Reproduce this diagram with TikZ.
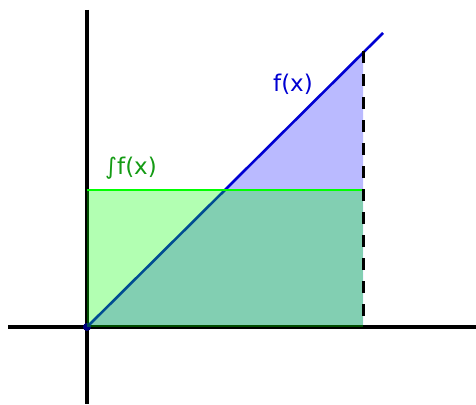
\documentclass[tikz,border=0pt]{standalone}
\usepackage{fontspec}
\setmainfont{DejaVu Sans}
\definecolor{fblue}{RGB}{0,0,210}
\definecolor{lblgreen}{RGB}{20,155,20}
\begin{document}
\begin{tikzpicture}[x=1pt,y=-1pt,
  axisline/.style={line width=3.2pt,black},
  fline/.style={line width=2.6pt,fblue},
  lbl/.style={font=\fontsize{23}{27}\selectfont,inner sep=0pt}]
\useasboundingbox (0,0) rectangle (476,404);
\coordinate (O) at (87,327);
\coordinate (xl) at (8,327);
\coordinate (xr) at (476,327);
\coordinate (yt) at (87,10);
\coordinate (yb) at (87,404);
\coordinate (E) at (383,33);
\coordinate (P) at (363,51);
\coordinate (B) at (363,327);
\coordinate (Gt) at (87,190);
\coordinate (Gr) at (363,190);
% blue area
\fill[fill=blue,fill opacity=0.27] (O) -- (P) -- (B) -- cycle;
% axes
\draw[axisline] (xl) -- (xr);
\draw[axisline] (yt) -- (yb);
% f(x)
\draw[fline] (O) -- (E);
\fill[fblue!60!black] (O) circle (4);
% green rectangle
\fill[green,fill opacity=0.3] (O) rectangle (Gr);
\draw[line width=2.8pt,green] (Gt) -- (Gr);
% dashed
\draw[line width=3pt,black,dash pattern=on 12pt off 11pt] (P) -- (B);
\node[lbl,text=fblue] (fl) at (293,84) {f(x)};
\node[lbl,text=lblgreen] (il) at (131,168) {∫f(x)};
\end{tikzpicture}
\end{document}
